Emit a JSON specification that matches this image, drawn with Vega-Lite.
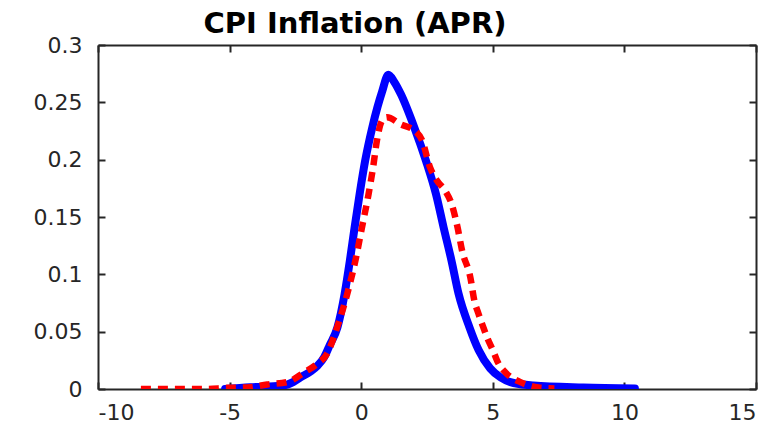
{
  "$schema": "https://vega.github.io/schema/vega-lite/v6.json",
  "autosize": {"type": "none"},
  "padding": {"left": 98, "top": 45, "right": 19, "bottom": 35},
  "width": 658,
  "height": 344,
  "background": "white",
  "title": {
    "text": "CPI Inflation (APR)",
    "font": "DejaVu Sans",
    "fontSize": 29,
    "fontWeight": "bold",
    "color": "#000000",
    "anchor": "middle",
    "dx": -72,
    "baseline": "alphabetic",
    "offset": -28
  },
  "datasets": {
    "blue": [
      {"x": -5.17, "y": 0.0},
      {"x": -4.22, "y": 0.0015},
      {"x": -3.65, "y": 0.002},
      {"x": -2.97, "y": 0.003},
      {"x": -2.59, "y": 0.006},
      {"x": -2.32, "y": 0.010},
      {"x": -1.94, "y": 0.015},
      {"x": -1.67, "y": 0.020},
      {"x": -1.4, "y": 0.028},
      {"x": -1.2, "y": 0.038},
      {"x": -0.9, "y": 0.054},
      {"x": -0.63, "y": 0.083},
      {"x": -0.43, "y": 0.112},
      {"x": -0.25, "y": 0.141},
      {"x": -0.06, "y": 0.170},
      {"x": 0.15, "y": 0.199},
      {"x": 0.42, "y": 0.228},
      {"x": 0.62, "y": 0.246},
      {"x": 0.79, "y": 0.259},
      {"x": 1.03, "y": 0.274},
      {"x": 1.25, "y": 0.268},
      {"x": 1.51, "y": 0.257},
      {"x": 2.02, "y": 0.228},
      {"x": 2.46, "y": 0.199},
      {"x": 2.84, "y": 0.170},
      {"x": 3.13, "y": 0.141},
      {"x": 3.43, "y": 0.112},
      {"x": 3.70, "y": 0.083},
      {"x": 4.11, "y": 0.054},
      {"x": 4.46, "y": 0.034},
      {"x": 4.9, "y": 0.018},
      {"x": 5.3, "y": 0.010},
      {"x": 5.67, "y": 0.006},
      {"x": 6.54, "y": 0.003},
      {"x": 8.44, "y": 0.0013},
      {"x": 10.4, "y": 0.0005}
    ],
    "red": [
      {"x": -8.37, "y": 0.0},
      {"x": -7.45, "y": 0.0},
      {"x": -5.89, "y": 0.0},
      {"x": -5.1, "y": 0.001},
      {"x": -4.33, "y": 0.0013},
      {"x": -3.57, "y": 0.004},
      {"x": -2.81, "y": 0.006},
      {"x": -2.2, "y": 0.014},
      {"x": -1.67, "y": 0.022},
      {"x": -1.29, "y": 0.031},
      {"x": -0.91, "y": 0.054},
      {"x": -0.53, "y": 0.083},
      {"x": -0.22, "y": 0.112},
      {"x": 0.03, "y": 0.141},
      {"x": 0.28, "y": 0.170},
      {"x": 0.45, "y": 0.193},
      {"x": 0.60, "y": 0.217},
      {"x": 0.79, "y": 0.234},
      {"x": 0.98, "y": 0.237},
      {"x": 1.49, "y": 0.231},
      {"x": 2.05, "y": 0.225},
      {"x": 2.31, "y": 0.217},
      {"x": 2.62, "y": 0.193},
      {"x": 2.87, "y": 0.182},
      {"x": 3.19, "y": 0.173},
      {"x": 3.44, "y": 0.161},
      {"x": 3.66, "y": 0.141},
      {"x": 3.83, "y": 0.121},
      {"x": 4.15, "y": 0.097},
      {"x": 4.30, "y": 0.077},
      {"x": 4.45, "y": 0.066},
      {"x": 4.62, "y": 0.055},
      {"x": 4.8, "y": 0.044},
      {"x": 5.0, "y": 0.034},
      {"x": 5.2, "y": 0.023},
      {"x": 5.5, "y": 0.014},
      {"x": 6.05, "y": 0.006},
      {"x": 6.73, "y": 0.0013},
      {"x": 7.34, "y": 0.0005}
    ]
  },
  "layer": [
    {
      "data": {"name": "blue"},
      "mark": {"type": "line", "color": "#0000FF", "strokeWidth": 8, "strokeJoin": "round", "strokeCap": "round", "interpolate": "monotone", "clip": true},
      "encoding": {
        "x": {
          "field": "x", "type": "quantitative",
          "scale": {"domain": [-10, 15], "nice": false, "zero": false},
          "axis": {
            "orient": "bottom", "title": null, "values": [-10, -5, 0, 5, 10, 15],
            "labelExpr": "replace(datum.label, '\u2212', '-')",
            "grid": false, "tickSize": -7, "labelPadding": 20
          }
        },
        "y": {
          "field": "y", "type": "quantitative",
          "scale": {"domain": [0, 0.3], "nice": false},
          "axis": {
            "orient": "left", "title": null, "values": [0, 0.05, 0.1, 0.15, 0.2, 0.25, 0.3],
            "format": ".2~f", "grid": false, "tickSize": -7, "labelPadding": 23
          }
        }
      }
    },
    {
      "data": {"name": "red"},
      "mark": {"type": "line", "color": "#FF0000", "strokeWidth": 6.5, "strokeDash": [10, 7], "strokeCap": "butt", "interpolate": "monotone", "clip": true},
      "encoding": {
        "x": {
          "field": "x", "type": "quantitative",
          "axis": {
            "orient": "top", "title": null, "values": [-10, -5, 0, 5, 10, 15],
            "labels": false, "grid": false, "tickSize": -7
          }
        },
        "y": {
          "field": "y", "type": "quantitative",
          "axis": {
            "orient": "right", "title": null, "values": [0, 0.05, 0.1, 0.15, 0.2, 0.25, 0.3],
            "labels": false, "grid": false, "tickSize": -7
          }
        }
      }
    }
  ],
  "resolve": {"axis": {"x": "independent", "y": "independent"}},
  "config": {
    "view": {"stroke": null},
    "axis": {
      "domainColor": "#262626",
      "domainWidth": 2,
      "tickColor": "#262626",
      "tickWidth": 2,
      "labelFont": "DejaVu Sans",
      "labelFontSize": 22,
      "labelColor": "#262626"
    }
  }
}
